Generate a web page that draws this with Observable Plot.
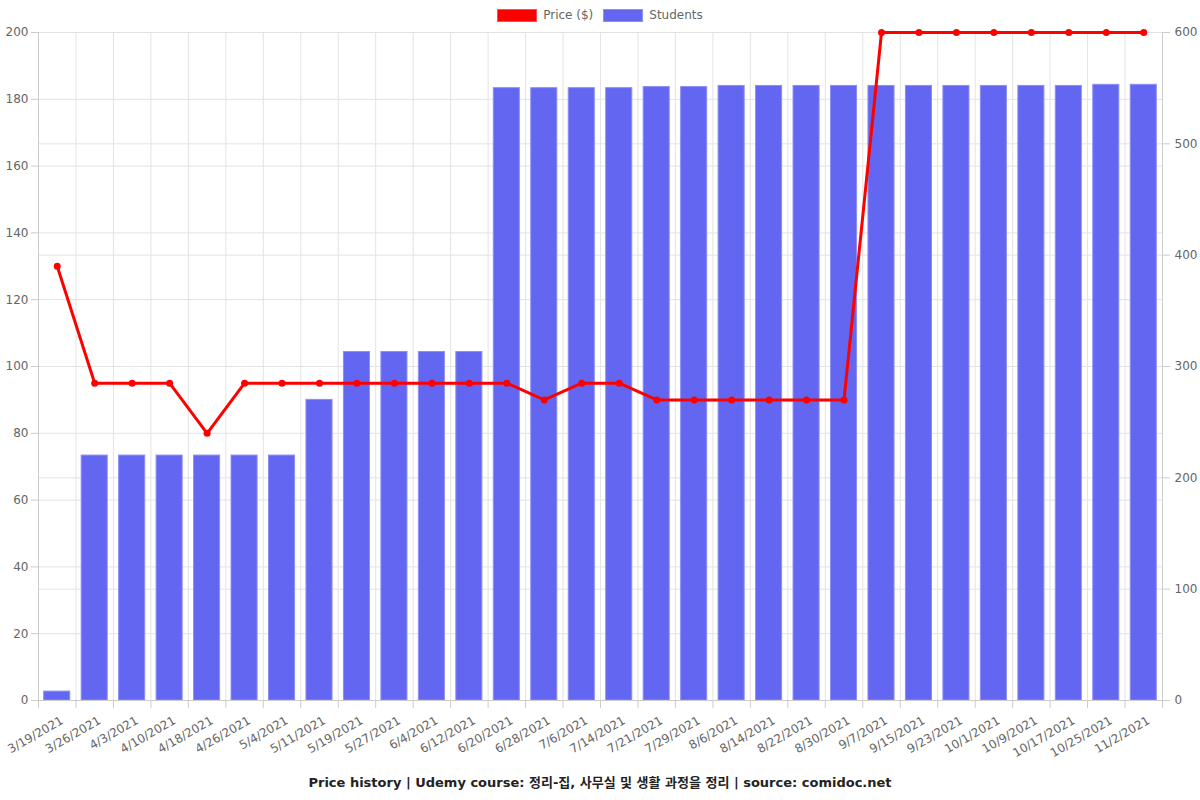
<!DOCTYPE html>
<html>
<head>
<meta charset="utf-8">
<script src="https://cdn.jsdelivr.net/npm/d3@7"></script>
<script src="https://cdn.jsdelivr.net/npm/@observablehq/plot@0.6"></script>
<style>
  html, body { margin: 0; padding: 0; background: #fff; }
  body { width: 1200px; height: 800px; overflow: hidden; font-family: "DejaVu Sans", "Noto Sans CJK KR", sans-serif; }
  #legend { position: relative; height: 24px; }
  #legend .items { position: absolute; top: 9px; left: 0; width: 1200px; display: flex; justify-content: center; align-items: center; font-size: 12px; color: #666; line-height: 13px; }
  #legend .sw { width: 40px; height: 13px; box-sizing: border-box; margin-right: 6px; }
  #legend .item { display: flex; align-items: center; margin: 0 5px; }
  #title { height: 34px; line-height: 34px; text-align: center; font-weight: bold; font-size: 13px; color: #222; }
</style>
</head>
<body>
<div id="legend"><div class="items">
  <div class="item"><div class="sw" style="background:#ff0000;border:1px solid #ff4d4d"></div><span>Price ($)</span></div>
  <div class="item"><div class="sw" style="background:#6366f1;border:1px solid #8c8ef5"></div><span>Students</span></div>
</div></div>
<div id="chart"></div>
<div id="title">Price history | Udemy course: 정리-집, 사무실 및 생활 과정을 정리 | source: comidoc.net</div>
<script>
const dates = ["3/19/2021","3/26/2021","4/3/2021","4/10/2021","4/18/2021","4/26/2021","5/4/2021","5/11/2021","5/19/2021","5/27/2021","6/4/2021","6/12/2021","6/20/2021","6/28/2021","7/6/2021","7/14/2021","7/21/2021","7/29/2021","8/6/2021","8/14/2021","8/22/2021","8/30/2021","9/7/2021","9/15/2021","9/23/2021","10/1/2021","10/9/2021","10/17/2021","10/25/2021","11/2/2021"];
const price = [130,95,95,95,80,95,95,95,95,95,95,95,95,90,95,95,90,90,90,90,90,90,200,200,200,200,200,200,200,200];
const students = [8,220,220,220,220,220,220,270,313,313,313,313,550,550,550,550,551,551,552,552,552,552,552,552,552,552,552,552,553,553];
const leftTicks = [0,20,40,60,80,100,120,140,160,180,200];
const rightTicks = [0,100,200,300,400,500,600];

const k = 200 / 600;
const n = dates.length;
const data = dates.map((d, i) => ({i, date: d, price: price[i], students: students[i]}));
const boundaries = d3.range(0, n + 1);
const centers = d3.range(n).map(i => i + 0.5);

const chart = Plot.plot({
  width: 1200,
  height: 742,
  marginTop: 8,
  marginBottom: 66,
  marginLeft: 38,
  marginRight: 38,
  style: {fontFamily: "DejaVu Sans, sans-serif", fontSize: "12px", color: "#666", background: "#fff", overflow: "visible"},
  x: {domain: [0, n]},
  y: {domain: [0, 200]},
  marks: [
    Plot.gridY(leftTicks, {stroke: "#e3e3e3", strokeOpacity: 1}),
    Plot.gridY(rightTicks.map(v => v * k), {stroke: "#e3e3e3", strokeOpacity: 1}),
    Plot.gridX(boundaries, {stroke: "#e3e3e3", strokeOpacity: 1}),
    Plot.rectY(data, {x1: d => d.i, x2: d => d.i + 1, y: d => d.students * k, insetLeft: 5.7, insetRight: 5.7, fill: "#6366f1", stroke: "#8c8ef5", strokeWidth: 1}),
    Plot.ruleX([0, n], {stroke: "#cccccc"}),
    Plot.ruleY([0], {stroke: "#cccccc"}),
    Plot.line(data, {x: d => d.i + 0.5, y: "price", stroke: "#ff0000", strokeWidth: 3}),
    Plot.dot(data, {x: d => d.i + 0.5, y: "price", r: 3.5, fill: "#ff0000", stroke: "none"}),
    Plot.axisY(leftTicks, {anchor: "left", tickSize: 7, tickPadding: 3, stroke: "#cccccc", fill: "#666", label: null, tickFormat: d => d}),
    Plot.axisY(rightTicks.map(v => v * k), {anchor: "right", tickSize: 7, tickPadding: 5, stroke: "#cccccc", fill: "#666", label: null, tickFormat: d => Math.round(d / k)}),
    Plot.axisX(boundaries, {anchor: "bottom", tickSize: 8, stroke: "#cccccc", tickFormat: () => "", label: null}),
    Plot.axisX(centers, {anchor: "bottom", tickSize: 0, tickPadding: 19, dx: 5, tickRotate: -30, fill: "#666", fontSize: 12, label: null, tickFormat: d => dates[Math.floor(d)]})
  ]
});
document.getElementById("chart").appendChild(chart);
</script>
</body>
</html>
